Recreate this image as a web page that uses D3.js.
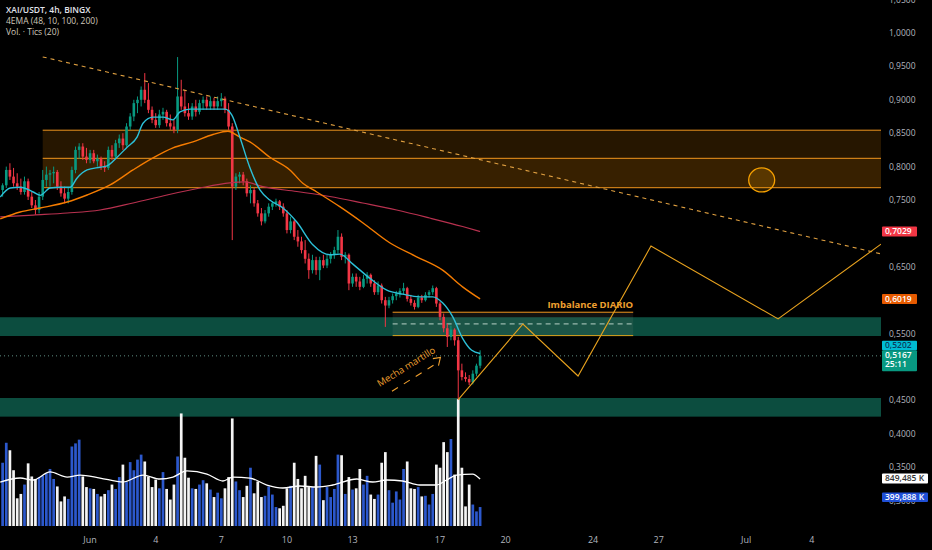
<!DOCTYPE html>
<html><head><meta charset="utf-8">
<script src="https://cdn.jsdelivr.net/npm/d3@7"></script>
<style>html,body{margin:0;padding:0;background:#000;overflow:hidden}svg{display:block}</style>
</head><body><svg id="c" width="932" height="550"></svg>
<script>
// ---------- DATA ----------
// 4h candles from 2024-05-28 00:00 UTC : [open, high, low, close]
const candles = [
[.765,.775,.755,.772],[.772,.800,.768,.795],[.795,.805,.780,.785],[.785,.798,.770,.775],[.775,.790,.765,.770],
[.770,.782,.758,.762],[.762,.785,.758,.778],[.778,.782,.750,.755],[.755,.762,.738,.742],[.742,.750,.728,.735],
[.735,.762,.730,.755],[.755,.795,.750,.780],[.780,.800,.770,.788],[.788,.795,.770,.790],[.790,.800,.775,.792],
[.792,.795,.765,.770],[.770,.778,.755,.760],[.760,.770,.745,.752],[.752,.768,.745,.762],[.762,.800,.758,.795],
[.795,.830,.790,.825],[.825,.835,.812,.830],[.830,.835,.810,.815],[.815,.828,.805,.810],[.810,.825,.805,.820],
[.820,.825,.805,.808],[.808,.818,.800,.812],[.812,.815,.795,.800],[.800,.808,.792,.798],[.798,.830,.795,.825],
[.825,.832,.810,.815],[.815,.840,.812,.835],[.835,.848,.828,.842],[.842,.850,.825,.832],[.832,.865,.830,.860],
[.860,.880,.855,.875],[.875,.900,.868,.895],[.895,.905,.880,.900],[.900,.920,.890,.915],[.915,.940,.895,.900],
[.900,.925,.880,.885],[.885,.890,.865,.870],[.870,.880,.858,.862],[.862,.885,.858,.878],[.878,.888,.870,.882],
[.882,.885,.860,.865],[.865,.878,.855,.860],[.860,.870,.850,.855],[.855,.964,.850,.905],[.905,.930,.885,.890],
[.890,.915,.875,.880],[.880,.895,.870,.875],[.875,.895,.870,.890],[.890,.900,.875,.882],[.882,.900,.878,.895],
[.895,.905,.885,.900],[.900,.905,.885,.890],[.890,.905,.885,.898],[.898,.903,.885,.890],[.890,.905,.885,.898],
[.898,.910,.890,.902],[.902,.905,.880,.885],[.885,.895,.855,.860],[.860,.865,.690,.770],[.770,.790,.765,.785],
[.785,.792,.775,.788],[.788,.792,.772,.778],[.778,.782,.755,.760],[.760,.772,.745,.765],[.765,.768,.740,.745],
[.745,.750,.725,.730],[.730,.738,.712,.718],[.718,.735,.715,.730],[.730,.745,.725,.740],[.740,.748,.735,.745],
[.745,.752,.740,.748],[.748,.750,.735,.740],[.740,.745,.725,.730],[.730,.735,.700,.705],[.705,.725,.700,.718],
[.718,.720,.690,.695],[.695,.705,.680,.688],[.688,.695,.670,.675],[.675,.690,.655,.662],[.662,.670,.632,.645],
[.645,.668,.640,.660],[.660,.665,.638,.645],[.645,.665,.630,.660],[.660,.668,.648,.652],[.652,.668,.648,.662],
[.662,.672,.655,.668],[.668,.680,.662,.675],[.675,.705,.670,.695],[.695,.700,.660,.665],[.665,.672,.655,.668],
[.668,.670,.615,.625],[.625,.640,.620,.635],[.635,.640,.620,.628],[.628,.635,.615,.620],[.620,.638,.618,.632],
[.632,.642,.625,.638],[.638,.640,.620,.625],[.625,.630,.608,.612],[.612,.628,.608,.622],[.622,.625,.595,.600],
[.600,.605,.560,.592],[.592,.605,.588,.600],[.600,.610,.595,.606],[.606,.614,.600,.610],[.610,.618,.604,.614],
[.614,.626,.608,.618],[.618,.620,.598,.602],[.602,.608,.592,.596],[.596,.600,.586,.590],[.590,.608,.588,.604],
[.604,.608,.596,.600],[.600,.612,.598,.608],[.608,.615,.604,.612],[.612,.622,.608,.618],[.618,.620,.590,.595],
[.595,.598,.570,.575],[.575,.580,.552,.558],[.558,.565,.530,.545],[.545,.562,.540,.556],[.556,.558,.532,.540],
[.540,.545,.451,.495],[.495,.505,.480,.485],[.485,.492,.478,.482],[.482,.488,.473,.477],[.477,.495,.474,.490],
[.490,.505,.486,.502],[.502,.525,.498,.5167]
];
// volume per candle, millions of tics
const volumes = [
1.11,1.43,1.31,0.99,0.54,0.61,0.76,1.10,0.89,0.85,0.88,0.90,0.94,1.01,0.85,0.73,0.49,0.57,0.53,1.37,
1.42,1.48,0.89,0.72,0.70,0.69,0.61,0.57,0.61,0.67,0.76,0.69,0.88,1.08,0.80,1.12,0.99,1.16,1.24,1.13,
0.89,0.72,0.84,0.70,0.96,0.69,0.52,0.76,1.21,1.90,1.19,0.87,0.70,0.69,0.76,0.83,0.78,0.68,0.56,0.63,
0.54,0.70,0.88,1.82,0.81,0.67,0.56,0.74,1.03,0.62,0.81,0.56,0.58,0.73,0.60,0.40,0.38,0.42,0.70,0.74,
1.11,0.85,0.70,0.90,0.72,0.72,1.22,1.08,0.51,0.72,0.56,0.69,1.24,1.23,0.61,0.88,0.68,0.70,1.01,0.76,
0.90,0.60,0.53,0.60,1.11,1.28,0.67,0.47,0.65,0.52,1.01,1.13,0.70,0.69,0.72,0.57,0.58,0.44,0.61,1.08,
1.03,1.44,1.28,1.49,0.92,2.13,1.03,0.41,0.76,0.44,0.33,0.40
];
// indicator lines: [candle index, value]
const ema10 = [[-0.66,.7545],[2.08,.768],[4.82,.769],[8.38,.762],[10.3,.757],[13.04,.768],[15.78,.769],[18.52,.769],
[20.44,.783],[23.18,.795],[26.74,.799],[28.66,.801],[31.4,.814],[34.14,.829],[36.88,.844],[38.52,.865],[41.26,.874],
[44,.874],[46.74,.870],[48.66,.882],[51.4,.886],[60.99,.886],[62.9,.877],[65.1,.844],[67.8,.799],[70.6,.765],
[73.3,.750],[76.9,.738],[80.7,.717],[85.1,.683],[89.8,.668],[92.5,.669],[96.1,.654],[100.7,.633],[105.4,.615],
[109.8,.609],[114.4,.605],[118,.605],[120.7,.596],[123.5,.575],[126.2,.543],[128.7,.525],[131,.5202]];
const ema48 = [[-0.66,.7216],[4.82,.732],[10.3,.738],[17.7,.747],[23.18,.7575],[29.48,.7725],[35.78,.795],[41.26,.813],
[46.74,.828],[52.22,.837],[57.7,.848],[61.81,.853],[65.1,.844],[67.84,.837],[73.32,.814],[78.8,.795],[82.36,.775],
[86.19,.762],[92.49,.740],[98.79,.716],[106.19,.686],[113.59,.665],[120.71,.645],[126.19,.620],[131,.6019]];
const ema100 = [[-0.66,.7246],[8.38,.7275],[17.7,.7305],[26.74,.735],[35.78,.7455],[45.1,.7575],[54.14,.768],
[62.36,.7755],[66.47,.777],[71.4,.770],[80.71,.7627],[89.75,.7552],[98.79,.7455],[108.1,.735],[117.15,.723],
[126.19,.7103],[131,.7029]];
const volMA = [[-0.66,.80],[4.82,.865],[8.38,.833],[13.04,.962],[17.7,.881],[21.26,.913],[26.74,.865],[33.04,.801],
[38.52,.913],[43.18,.849],[46.74,.881],[50.58,.978],[56.05,.929],[60.44,.817],[63.18,.881],[67.84,.865],[72.5,.753],
[76.88,.705],[81.53,.737],[86.19,.721],[90.58,.753],[97.15,.849],[101.53,.801],[105.37,.833],[109.75,.817],
[114.4,.753],[119.07,.753],[121.8,.833],[124.55,.913],[128.93,.929],[131,.849485]];
// price axis ticks and time axis
const priceTicks = [1.05,1.00,0.95,0.90,0.85,0.80,0.75,0.65,0.55,0.45,0.40,0.35,0.30];
const dateTicks = ["2024-06-01","2024-06-04","2024-06-07","2024-06-10","2024-06-13","2024-06-17","2024-06-20","2024-06-24","2024-06-27","2024-07-01","2024-07-04"];
const dateLabels = ["Jun","4","7","10","13","17","20","24","27","Jul","4"];
// legend lines
const legendLines = ["XAI/USDT, 4h, BINGX", "4EMA (48, 10, 100, 200)", "Vol. · Tics (20)"];
// drawings
const supplyStart = "2024-05-29T20:00";
const supplyLevels = [0.8545, 0.8124, 0.7684];
const demandZones = [[0.5745,0.5464],[0.4536,0.4257]];
const imbalanceDates = ["2024-06-14T20:00","2024-06-25T20:00"];
const imbalanceLevels = [0.582, 0.5645, 0.547];
const trendLine = [["2024-05-29T20:00",0.9642],["2024-07-07T04:00",0.6693]];
const projection = [["2024-06-17T20:00",0.451],["2024-06-20T19:00",0.5644],["2024-06-23T07:30",0.4865],
  ["2024-06-26T15:30",0.681],["2024-07-02T11:00",0.572],["2024-07-07T04:00",0.684]];
const targetCircle = ["2024-07-01T17:00",0.780];
const noteAnchor = ["2024-06-14T06:00",0.470];
const lastPrice = 0.5167, ema10Last = 0.5202, ema48Last = 0.6019, ema100Last = 0.7029;
const volMALast = 849.485, volLast = 399.888;

// ---------- CHART ----------
const W = 932, H = 550, plotR = 881;
const T0 = Date.UTC(2024,4,28,0), H4 = 4*3600e3;
const tOf = i => new Date(T0 + i*H4);
const dt = s => new Date(s + (s.length === 10 ? "T00:00Z" : "Z"));
const x = d3.scaleUtc().domain([dt("2024-06-01"), dt("2024-07-04")]).range([90.1, 811.8]);
const y = d3.scaleLinear().domain([0.30, 1.00]).range([500.6, 33]);
const vy = d3.scaleLinear().domain([0, 1]).range([532, 469.6]);
const xi = i => x(tOf(i));
const fmtP = v => d3.format(".4f")(v).replace(".", ",");
const FONT = "'Open Sans', 'Liberation Sans', sans-serif";

const svg = d3.select("#c").style("font-family", FONT);
svg.append("rect").attr("width", W).attr("height", H).attr("fill", "#000");
svg.append("defs").append("clipPath").attr("id","plot")
  .append("rect").attr("x",0).attr("y",0).attr("width",plotR).attr("height",526);
const g = svg.append("g").attr("clip-path","url(#plot)");

// demand zones
const zoneX0 = x(dt("2024-05-20T00:00"));
g.selectAll("rect.dz").data(demandZones).join("rect").attr("class","dz")
  .attr("x", zoneX0).attr("width", plotR - zoneX0)
  .attr("y", d => y(d[0])).attr("height", d => y(d[1]) - y(d[0]))
  .attr("fill", "#0c4d3f");

// supply box
const sx = x(dt(supplyStart));
g.append("rect").attr("x", sx).attr("width", plotR - sx)
  .attr("y", y(supplyLevels[0])).attr("height", y(supplyLevels[2]) - y(supplyLevels[0]))
  .attr("fill", "rgba(255,150,0,0.15)");
g.append("rect").attr("x", sx).attr("width", plotR - sx)
  .attr("y", y(supplyLevels[1])).attr("height", y(supplyLevels[2]) - y(supplyLevels[1]))
  .attr("fill", "rgba(255,150,0,0.08)");
g.selectAll("line.sl").data(supplyLevels).join("line").attr("class","sl")
  .attr("x1", sx).attr("x2", plotR).attr("y1", d => y(d)).attr("y2", d => y(d))
  .attr("stroke", "#f0961e").attr("stroke-width", 1);

// imbalance box
const ix0 = x(dt(imbalanceDates[0])), ix1 = x(dt(imbalanceDates[1]));
g.append("rect").attr("x", ix0).attr("width", ix1 - ix0)
  .attr("y", y(imbalanceLevels[0])).attr("height", y(imbalanceLevels[2]) - y(imbalanceLevels[0]))
  .attr("fill", "rgba(150,150,130,0.12)");
g.append("line").attr("x1", ix0).attr("x2", ix1).attr("y1", y(imbalanceLevels[0])).attr("y2", y(imbalanceLevels[0]))
  .attr("stroke", "#f0961e").attr("stroke-width", 1);
g.append("line").attr("x1", ix0).attr("x2", ix1).attr("y1", y(imbalanceLevels[2])).attr("y2", y(imbalanceLevels[2]))
  .attr("stroke", "#d9a21c").attr("stroke-width", 1);
g.append("line").attr("x1", ix0).attr("x2", ix1).attr("y1", y(imbalanceLevels[1])).attr("y2", y(imbalanceLevels[1]))
  .attr("stroke", "#b8d2c6").attr("stroke-width", 1).attr("stroke-dasharray", "5,4");
g.append("text").attr("x", ix1).attr("y", y(imbalanceLevels[0]) - 4).attr("text-anchor", "end")
  .attr("font-size", 9.5).attr("font-weight", 700).attr("fill", "#f0a030").text("Imbalance DIARIO");

// last price dotted line
g.append("line").attr("x1", 0).attr("x2", plotR).attr("y1", y(lastPrice)).attr("y2", y(lastPrice))
  .attr("stroke", "#5f8f84").attr("stroke-width", 1).attr("stroke-dasharray", "1,3");

// volume bars
const isUp = i => candles[i][3] >= candles[i][0];
g.selectAll("rect.vol").data(volumes).join("rect").attr("class","vol")
  .attr("x", (d,i) => xi(i) - 1.35).attr("width", 2.7)
  .attr("y", d => vy(d)).attr("height", d => vy(0) - vy(d))
  .attr("fill", (d,i) => isUp(i) ? "#2c58cc" : "#f4f4f4");
const lineGen = (sc) => d3.line().x(d => xi(d[0])).y(d => sc(d[1])).curve(d3.curveMonotoneX);
g.append("path").datum(volMA).attr("d", lineGen(vy)).attr("fill","none")
  .attr("stroke","#ffffff").attr("stroke-width",1.3);

// candles
const cg = g.selectAll("g.c").data(candles).join("g").attr("class","c");
cg.append("line").attr("x1",(d,i)=>xi(i)).attr("x2",(d,i)=>xi(i))
  .attr("y1", d => y(d[1])).attr("y2", d => y(d[2]))
  .attr("stroke", d => d[3] >= d[0] ? "#089981" : "#f23645").attr("stroke-width", 1);
cg.append("rect").attr("x",(d,i)=>xi(i)-1.3).attr("width",2.6)
  .attr("y", d => y(Math.max(d[0],d[3])))
  .attr("height", d => Math.max(1, Math.abs(y(d[0]) - y(d[3]))))
  .attr("fill", d => d[3] >= d[0] ? "#089981" : "#f23645");

// EMAs
g.append("path").datum(ema100).attr("d", lineGen(y)).attr("fill","none").attr("stroke","#b8314f").attr("stroke-width",1.2);
g.append("path").datum(ema48).attr("d", lineGen(y)).attr("fill","none").attr("stroke","#f57c00").attr("stroke-width",1.4);
g.append("path").datum(ema10).attr("d", lineGen(y)).attr("fill","none").attr("stroke","#2cc0d8").attr("stroke-width",1.4);

// trend line (dashed)
g.append("line").attr("x1", x(dt(trendLine[0][0]))).attr("y1", y(trendLine[0][1]))
  .attr("x2", x(dt(trendLine[1][0]))).attr("y2", y(trendLine[1][1]))
  .attr("stroke","#e0a040").attr("stroke-width",1.1).attr("stroke-dasharray","4,4");

// projection zigzag
g.append("path").datum(projection)
  .attr("d", d3.line().x(d => x(dt(d[0]))).y(d => y(d[1])))
  .attr("fill","none").attr("stroke","#e8a21e").attr("stroke-width",1.1);

// target circle
g.append("ellipse").attr("cx", x(dt(targetCircle[0]))).attr("cy", y(targetCircle[1]))
  .attr("rx", 13).attr("ry", 12).attr("fill","rgba(245,160,0,0.18)")
  .attr("stroke","#f5a000").attr("stroke-width",1.3);

// note "Mecha martillo"
const nx = x(dt(noteAnchor[0])), ny = y(noteAnchor[1]);
const note = g.append("g").attr("transform", `translate(${nx},${ny}) rotate(-32)`);
note.append("text").attr("x",0).attr("y",0).attr("font-size",9.5).attr("fill","#f0a030").text("Mecha martillo");
note.append("line").attr("x1",8).attr("y1",10).attr("x2",58).attr("y2",10)
  .attr("stroke","#f0a030").attr("stroke-width",1.1).attr("stroke-dasharray","7,7");
note.append("path").attr("d","M60,4 L67,7 L61,13").attr("fill","none").attr("stroke","#f0a030").attr("stroke-width",1.1);

// ---------- AXES ----------
const ax = svg.append("g");
ax.selectAll("text.pt").data(priceTicks).join("text").attr("class","pt")
  .attr("x", 889).attr("y", d => y(d)).attr("dy","0.35em")
  .attr("font-size", 8.5).attr("fill","#b2b5be").text(d => fmtP(d));
ax.selectAll("text.dt").data(dateTicks).join("text").attr("class","dt")
  .attr("x", d => x(dt(d))).attr("y", 543).attr("text-anchor","middle")
  .attr("font-size", 9).attr("fill","#b2b5be").text((d,i) => dateLabels[i]);

// price tags
function tag(top, h, w, fill, color, lines) {
  ax.append("rect").attr("x", 882).attr("y", top).attr("width", w).attr("height", h).attr("fill", fill).attr("rx",1);
  lines.forEach((t, k) => ax.append("text").attr("x", 885).attr("y", top + 7.6 + k*9.5)
    .attr("font-size", 8.5).attr("font-weight", 600).attr("fill", color).text(t));
}
tag(y(ema100Last) - 5, 10, 35, "#f23645", "#ffffff", [fmtP(ema100Last)]);
tag(y(ema48Last) - 5, 10, 35, "#e65a00", "#ffffff", [fmtP(ema48Last)]);
const gTop = y(lastPrice) - 5.5;
tag(gTop, 21, 35, "#089981", "#ffffff", [fmtP(lastPrice), "25:11"]);
tag(gTop - 9.5, 9.5, 35, "#00bcd4", "#0b3d5c", [fmtP(ema10Last)]);
tag(vy(volMALast/1000) - 5.5, 10, 46, "#ffffff", "#333333", [d3.format(".3f")(volMALast).replace(".",",") + " K"]);
tag(vy(volLast/1000) - 14.5, 9.5, 46, "#1f4fd6", "#ffffff", [d3.format(".3f")(volLast).replace(".",",") + " K"]);

// legend
const lg = svg.append("g").attr("font-size", 8.5);
lg.selectAll("text").data(legendLines).join("text")
  .attr("x", 6).attr("y", (d,i) => 12.5 + i*11.3)
  .attr("font-weight", (d,i) => i === 0 ? 600 : 400)
  .attr("fill", (d,i) => i === 0 ? "#e0e3eb" : "#cfc8bb")
  .text(d => d);
</script>
</body></html>
